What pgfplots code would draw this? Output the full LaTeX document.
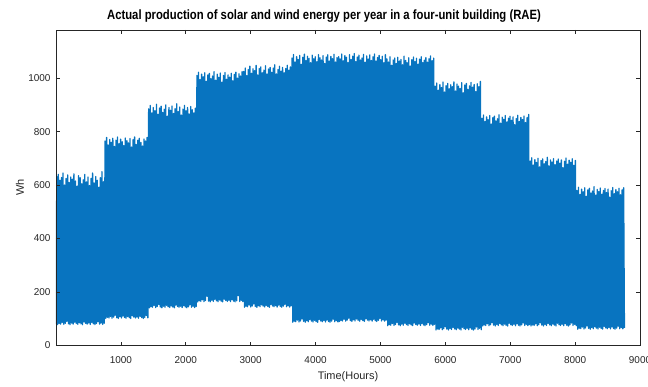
\documentclass[border=0pt]{standalone}
\usepackage{pgfplots}
\usepackage{pgfplotstable}
\pgfplotsset{compat=1.18}
\usepackage{fontspec}
\setmainfont{Liberation Sans}
\definecolor{mblue}{RGB}{8,116,192}
\definecolor{axgray}{RGB}{38,38,38}

% alternating rows: night minimum, daily peak (hourly index = row*12)
\pgfplotstableread[row sep=\\]{
v\\ 80\\
632\\78\\640\\82\\618\\80\\628\\86\\645\\79\\600\\83\\625\\90\\638\\81\\610\\78\\630\\84\\
622\\80\\642\\87\\615\\82\\596\\79\\635\\85\\628\\81\\605\\78\\620\\88\\640\\83\\612\\80\\
630\\84\\598\\79\\625\\86\\645\\81\\608\\78\\632\\82\\618\\89\\592\\80\\628\\84\\650\\79\\612\\83\\
765\\101\\778\\105\\750\\103\\770\\109\\760\\102\\775\\106\\745\\113\\768\\104\\780\\101\\755\\107\\
772\\103\\762\\110\\748\\105\\776\\102\\766\\108\\758\\104\\774\\101\\742\\111\\770\\106\\780\\103\\
752\\107\\768\\102\\775\\109\\760\\104\\746\\101\\772\\105\\765\\112\\778\\103\\
885\\141\\898\\145\\870\\143\\890\\149\\878\\142\\902\\146\\865\\153\\888\\144\\895\\141\\872\\147\\
884\\143\\900\\150\\858\\145\\890\\142\\880\\148\\896\\144\\868\\141\\886\\151\\904\\146\\875\\143\\
892\\147\\862\\142\\884\\149\\898\\144\\878\\141\\890\\145\\866\\152\\894\\143\\882\\147\\870\\142\\888\\146\\
1010\\163\\1022\\167\\995\\165\\1015\\171\\1005\\164\\1020\\168\\988\\184\\1012\\166\\1018\\163\\998\\169\\
1008\\165\\1024\\172\\992\\167\\1015\\164\\1003\\170\\1019\\166\\985\\163\\1010\\173\\1021\\168\\996\\165\\
1012\\169\\1004\\164\\1018\\171\\990\\166\\1014\\163\\1022\\167\\1000\\186\\1016\\165\\1008\\169\\1024\\164\\
1025\\143\\1038\\147\\1010\\145\\1032\\151\\1045\\144\\1018\\148\\1035\\155\\1028\\146\\1048\\143\\1012\\149\\
1036\\145\\1042\\152\\1020\\147\\1030\\144\\1046\\150\\1015\\146\\1034\\143\\1040\\153\\1022\\148\\1038\\145\\
1050\\149\\1016\\144\\1032\\151\\1044\\146\\1026\\143\\1040\\147\\1020\\154\\1036\\145\\1048\\149\\1030\\144\\1042\\148\\
1075\\87\\1088\\91\\1060\\89\\1080\\95\\1070\\88\\1085\\92\\1052\\99\\1078\\90\\1090\\87\\1066\\93\\
1082\\89\\1074\\96\\1058\\91\\1086\\88\\1072\\94\\1080\\90\\1062\\87\\1088\\97\\1076\\92\\1068\\89\\
1084\\93\\1055\\88\\1079\\95\\1087\\90\\1064\\87\\1081\\91\\1073\\98\\1089\\89\\1060\\93\\1077\\88\\
1080\\90\\1072\\94\\1090\\92\\1065\\98\\1084\\91\\1078\\95\\1058\\102\\1088\\93\\1070\\90\\1082\\96\\
1092\\92\\1062\\99\\1079\\94\\1086\\91\\1068\\97\\1075\\93\\1089\\90\\1060\\100\\1083\\95\\1071\\92\\
1087\\96\\1066\\91\\1080\\98\\1090\\93\\1064\\90\\1077\\94\\1085\\101\\1069\\92\\1082\\96\\1058\\91\\1088\\95\\
1072\\74\\1060\\78\\1080\\76\\1048\\82\\1068\\75\\1075\\79\\1055\\86\\1078\\77\\1064\\74\\1070\\80\\
1050\\76\\1082\\83\\1066\\78\\1058\\75\\1076\\81\\1045\\77\\1069\\74\\1079\\84\\1062\\79\\1074\\76\\
1052\\80\\1071\\75\\1080\\82\\1058\\77\\1067\\74\\1077\\78\\1060\\85\\1072\\76\\1083\\80\\1065\\75\\1075\\79\\
970\\58\\982\\62\\955\\60\\976\\66\\965\\59\\985\\63\\948\\70\\972\\61\\980\\58\\960\\64\\
975\\60\\968\\67\\986\\62\\952\\59\\978\\65\\970\\61\\962\\58\\983\\68\\945\\63\\974\\60\\
980\\64\\958\\59\\971\\66\\984\\61\\966\\58\\976\\62\\950\\69\\979\\60\\968\\64\\988\\59\\
850\\73\\862\\77\\838\\75\\855\\81\\845\\74\\860\\78\\828\\85\\852\\76\\858\\73\\840\\79\\
848\\75\\863\\82\\832\\77\\854\\74\\846\\80\\860\\76\\836\\73\\850\\83\\857\\78\\842\\75\\
855\\79\\826\\74\\849\\81\\861\\76\\838\\73\\853\\77\\845\\84\\858\\75\\834\\79\\852\\74\\864\\78\\
690\\73\\702\\77\\675\\75\\695\\81\\685\\74\\700\\78\\668\\85\\692\\76\\698\\73\\680\\79\\
688\\75\\704\\82\\672\\77\\694\\74\\686\\80\\699\\76\\676\\73\\690\\83\\697\\78\\682\\75\\
694\\79\\665\\74\\689\\81\\701\\76\\678\\73\\693\\77\\685\\84\\698\\75\\674\\79\\692\\74\\
580\\61\\592\\65\\565\\63\\585\\69\\575\\62\\590\\66\\558\\73\\582\\64\\588\\61\\570\\67\\
578\\63\\594\\70\\562\\65\\584\\62\\576\\68\\589\\64\\566\\61\\580\\71\\587\\66\\572\\63\\
585\\67\\555\\62\\579\\69\\591\\64\\568\\61\\583\\65\\575\\72\\588\\63\\564\\67\\582\\62\\590\\66\\
}\energy

\begin{document}
\begin{tikzpicture}
\begin{axis}[
  at={(0,0)}, anchor=south west,
  scale only axis, width=584bp, height=315.5bp,
  xmin=0, xmax=9000, ymin=0, ymax=1180,
  xtick={1000,2000,...,9000}, ytick={0,200,...,1000},
  scaled ticks=false,
  /pgf/number format/1000 sep={},
  /pgf/number format/assume math mode=true,
  tick align=inside, major tick length=4bp,
  axis line style={axgray, line width=0.6bp},
  tick style={axgray, line width=0.6bp},
  ticklabel style={font=\fontsize{10}{12}\selectfont, text=axgray},
  xticklabel style={anchor=base, yshift=-18bp},
  yticklabel style={xshift=-2bp},
  axis on top,
  title={Actual production of solar and wind energy per year in a four-unit building (RAE)},
  every axis title/.style={at={(axis description cs:0.5,1)}, anchor=base, yshift=10.5bp,
    xshift=-24bp, font=\bfseries\fontsize{13.5}{15}\selectfont, xscale=0.84},
  xlabel={Time(Hours)}, ylabel={Wh},
  label style={font=\fontsize{11}{13}\selectfont, text=axgray},
  xlabel style={at={(axis description cs:0.5,0)}, anchor=base, yshift=-34bp},
  ylabel style={at={(axis description cs:-0.0548,0.5)}, anchor=base},
]
\addplot[mblue, line width=1.3bp, line join=round, mark=none]
  table[x expr=\coordindex*12, y=v] {\energy};
\end{axis}
\pgfresetboundingbox
\path[use as bounding box] (-56bp,-41.5bp) rectangle (592bp,345.5bp);
\end{tikzpicture}
\end{document}
